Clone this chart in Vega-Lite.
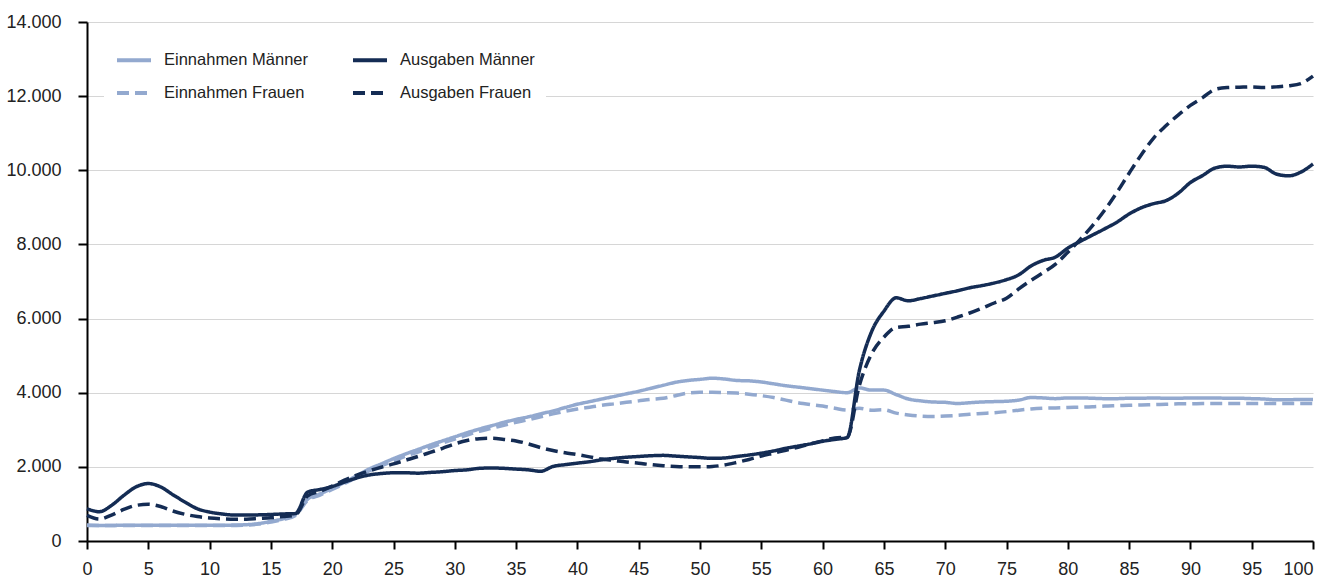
{
  "$schema": "https://vega.github.io/schema/vega-lite/v6.json",
  "width": 1226,
  "height": 519,
  "autosize": {"type": "none"},
  "padding": {"left": 87, "top": 22, "right": 15, "bottom": 37},
  "background": "white",
  "config": {
    "view": {"stroke": null},
    "font": "Liberation Sans",
    "locale": {"number": {"decimal": ",", "thousands": ".", "grouping": [3], "currency": ["", " €"]}},
    "axis": {
      "labelFont": "Liberation Sans",
      "labelFontSize": 18,
      "labelColor": "#222222",
      "domainColor": "#000000",
      "domainWidth": 2,
      "tickColor": "#000000",
      "tickWidth": 2,
      "title": null
    },
    "legend": {
      "orient": "none",
      "legendX": 17,
      "legendY": 8,
      "columns": 2,
      "fillColor": "white",
      "padding": 11,
      "symbolType": "stroke",
      "symbolSize": 1156,
      "symbolStrokeWidth": 4,
      "labelFont": "Liberation Sans",
      "labelFontSize": 16.5,
      "labelColor": "#222222",
      "labelOffset": 11,
      "rowPadding": 5,
      "columnPadding": 36,
      "labelLimit": 300
    }
  },
  "data": {"values": [
    {"age":0,"series":"Einnahmen Männer","value":420},{"age":1,"series":"Einnahmen Männer","value":420},{"age":2,"series":"Einnahmen Männer","value":420},{"age":3,"series":"Einnahmen Männer","value":425},{"age":4,"series":"Einnahmen Männer","value":425},{"age":5,"series":"Einnahmen Männer","value":425},{"age":6,"series":"Einnahmen Männer","value":425},{"age":7,"series":"Einnahmen Männer","value":425},{"age":8,"series":"Einnahmen Männer","value":425},{"age":9,"series":"Einnahmen Männer","value":425},
    {"age":10,"series":"Einnahmen Männer","value":425},{"age":11,"series":"Einnahmen Männer","value":425},{"age":12,"series":"Einnahmen Männer","value":430},{"age":13,"series":"Einnahmen Männer","value":440},{"age":14,"series":"Einnahmen Männer","value":470},{"age":15,"series":"Einnahmen Männer","value":530},{"age":16,"series":"Einnahmen Männer","value":600},{"age":17,"series":"Einnahmen Männer","value":720},{"age":18,"series":"Einnahmen Männer","value":1130},{"age":19,"series":"Einnahmen Männer","value":1270},
    {"age":20,"series":"Einnahmen Männer","value":1420},{"age":21,"series":"Einnahmen Männer","value":1580},{"age":22,"series":"Einnahmen Männer","value":1760},{"age":23,"series":"Einnahmen Männer","value":1940},{"age":24,"series":"Einnahmen Männer","value":2080},{"age":25,"series":"Einnahmen Männer","value":2220},{"age":26,"series":"Einnahmen Männer","value":2350},{"age":27,"series":"Einnahmen Männer","value":2470},{"age":28,"series":"Einnahmen Männer","value":2590},{"age":29,"series":"Einnahmen Männer","value":2700},
    {"age":30,"series":"Einnahmen Männer","value":2810},{"age":31,"series":"Einnahmen Männer","value":2920},{"age":32,"series":"Einnahmen Männer","value":3020},{"age":33,"series":"Einnahmen Männer","value":3110},{"age":34,"series":"Einnahmen Männer","value":3200},{"age":35,"series":"Einnahmen Männer","value":3280},{"age":36,"series":"Einnahmen Männer","value":3350},{"age":37,"series":"Einnahmen Männer","value":3430},{"age":38,"series":"Einnahmen Männer","value":3510},{"age":39,"series":"Einnahmen Männer","value":3600},
    {"age":40,"series":"Einnahmen Männer","value":3690},{"age":41,"series":"Einnahmen Männer","value":3760},{"age":42,"series":"Einnahmen Männer","value":3830},{"age":43,"series":"Einnahmen Männer","value":3900},{"age":44,"series":"Einnahmen Männer","value":3970},{"age":45,"series":"Einnahmen Männer","value":4040},{"age":46,"series":"Einnahmen Männer","value":4120},{"age":47,"series":"Einnahmen Männer","value":4200},{"age":48,"series":"Einnahmen Männer","value":4280},{"age":49,"series":"Einnahmen Männer","value":4330},
    {"age":50,"series":"Einnahmen Männer","value":4360},{"age":51,"series":"Einnahmen Männer","value":4390},{"age":52,"series":"Einnahmen Männer","value":4370},{"age":53,"series":"Einnahmen Männer","value":4330},{"age":54,"series":"Einnahmen Männer","value":4320},{"age":55,"series":"Einnahmen Männer","value":4290},{"age":56,"series":"Einnahmen Männer","value":4240},{"age":57,"series":"Einnahmen Männer","value":4190},{"age":58,"series":"Einnahmen Männer","value":4150},{"age":59,"series":"Einnahmen Männer","value":4110},
    {"age":60,"series":"Einnahmen Männer","value":4070},{"age":61,"series":"Einnahmen Männer","value":4030},{"age":62,"series":"Einnahmen Männer","value":4000},{"age":63,"series":"Einnahmen Männer","value":4130},{"age":64,"series":"Einnahmen Männer","value":4070},{"age":65,"series":"Einnahmen Männer","value":4070},{"age":66,"series":"Einnahmen Männer","value":3950},{"age":67,"series":"Einnahmen Männer","value":3830},{"age":68,"series":"Einnahmen Männer","value":3780},{"age":69,"series":"Einnahmen Männer","value":3750},
    {"age":70,"series":"Einnahmen Männer","value":3740},{"age":71,"series":"Einnahmen Männer","value":3710},{"age":72,"series":"Einnahmen Männer","value":3730},{"age":73,"series":"Einnahmen Männer","value":3750},{"age":74,"series":"Einnahmen Männer","value":3760},{"age":75,"series":"Einnahmen Männer","value":3770},{"age":76,"series":"Einnahmen Männer","value":3800},{"age":77,"series":"Einnahmen Männer","value":3870},{"age":78,"series":"Einnahmen Männer","value":3860},{"age":79,"series":"Einnahmen Männer","value":3840},
    {"age":80,"series":"Einnahmen Männer","value":3860},{"age":81,"series":"Einnahmen Männer","value":3860},{"age":82,"series":"Einnahmen Männer","value":3850},{"age":83,"series":"Einnahmen Männer","value":3840},{"age":84,"series":"Einnahmen Männer","value":3840},{"age":85,"series":"Einnahmen Männer","value":3850},{"age":86,"series":"Einnahmen Männer","value":3850},{"age":87,"series":"Einnahmen Männer","value":3860},{"age":88,"series":"Einnahmen Männer","value":3850},{"age":89,"series":"Einnahmen Männer","value":3850},
    {"age":90,"series":"Einnahmen Männer","value":3860},{"age":91,"series":"Einnahmen Männer","value":3860},{"age":92,"series":"Einnahmen Männer","value":3860},{"age":93,"series":"Einnahmen Männer","value":3850},{"age":94,"series":"Einnahmen Männer","value":3850},{"age":95,"series":"Einnahmen Männer","value":3840},{"age":96,"series":"Einnahmen Männer","value":3830},{"age":97,"series":"Einnahmen Männer","value":3810},{"age":98,"series":"Einnahmen Männer","value":3810},{"age":99,"series":"Einnahmen Männer","value":3820},{"age":100,"series":"Einnahmen Männer","value":3820},

    {"age":0,"series":"Einnahmen Frauen","value":430},{"age":1,"series":"Einnahmen Frauen","value":420},{"age":2,"series":"Einnahmen Frauen","value":420},{"age":3,"series":"Einnahmen Frauen","value":420},{"age":4,"series":"Einnahmen Frauen","value":420},{"age":5,"series":"Einnahmen Frauen","value":420},{"age":6,"series":"Einnahmen Frauen","value":420},{"age":7,"series":"Einnahmen Frauen","value":420},{"age":8,"series":"Einnahmen Frauen","value":420},{"age":9,"series":"Einnahmen Frauen","value":420},
    {"age":10,"series":"Einnahmen Frauen","value":415},{"age":11,"series":"Einnahmen Frauen","value":415},{"age":12,"series":"Einnahmen Frauen","value":420},{"age":13,"series":"Einnahmen Frauen","value":430},{"age":14,"series":"Einnahmen Frauen","value":455},{"age":15,"series":"Einnahmen Frauen","value":510},{"age":16,"series":"Einnahmen Frauen","value":580},{"age":17,"series":"Einnahmen Frauen","value":690},{"age":18,"series":"Einnahmen Frauen","value":1100},{"age":19,"series":"Einnahmen Frauen","value":1240},
    {"age":20,"series":"Einnahmen Frauen","value":1390},{"age":21,"series":"Einnahmen Frauen","value":1550},{"age":22,"series":"Einnahmen Frauen","value":1720},{"age":23,"series":"Einnahmen Frauen","value":1890},{"age":24,"series":"Einnahmen Frauen","value":2030},{"age":25,"series":"Einnahmen Frauen","value":2160},{"age":26,"series":"Einnahmen Frauen","value":2290},{"age":27,"series":"Einnahmen Frauen","value":2400},{"age":28,"series":"Einnahmen Frauen","value":2520},{"age":29,"series":"Einnahmen Frauen","value":2640},
    {"age":30,"series":"Einnahmen Frauen","value":2750},{"age":31,"series":"Einnahmen Frauen","value":2860},{"age":32,"series":"Einnahmen Frauen","value":2960},{"age":33,"series":"Einnahmen Frauen","value":3040},{"age":34,"series":"Einnahmen Frauen","value":3120},{"age":35,"series":"Einnahmen Frauen","value":3200},{"age":36,"series":"Einnahmen Frauen","value":3270},{"age":37,"series":"Einnahmen Frauen","value":3350},{"age":38,"series":"Einnahmen Frauen","value":3430},{"age":39,"series":"Einnahmen Frauen","value":3500},
    {"age":40,"series":"Einnahmen Frauen","value":3560},{"age":41,"series":"Einnahmen Frauen","value":3610},{"age":42,"series":"Einnahmen Frauen","value":3660},{"age":43,"series":"Einnahmen Frauen","value":3700},{"age":44,"series":"Einnahmen Frauen","value":3740},{"age":45,"series":"Einnahmen Frauen","value":3780},{"age":46,"series":"Einnahmen Frauen","value":3820},{"age":47,"series":"Einnahmen Frauen","value":3850},{"age":48,"series":"Einnahmen Frauen","value":3920},{"age":49,"series":"Einnahmen Frauen","value":3990},
    {"age":50,"series":"Einnahmen Frauen","value":4010},{"age":51,"series":"Einnahmen Frauen","value":4010},{"age":52,"series":"Einnahmen Frauen","value":4000},{"age":53,"series":"Einnahmen Frauen","value":3990},{"age":54,"series":"Einnahmen Frauen","value":3960},{"age":55,"series":"Einnahmen Frauen","value":3920},{"age":56,"series":"Einnahmen Frauen","value":3870},{"age":57,"series":"Einnahmen Frauen","value":3800},{"age":58,"series":"Einnahmen Frauen","value":3730},{"age":59,"series":"Einnahmen Frauen","value":3680},
    {"age":60,"series":"Einnahmen Frauen","value":3640},{"age":61,"series":"Einnahmen Frauen","value":3580},{"age":62,"series":"Einnahmen Frauen","value":3530},{"age":63,"series":"Einnahmen Frauen","value":3580},{"age":64,"series":"Einnahmen Frauen","value":3530},{"age":65,"series":"Einnahmen Frauen","value":3540},{"age":66,"series":"Einnahmen Frauen","value":3450},{"age":67,"series":"Einnahmen Frauen","value":3400},{"age":68,"series":"Einnahmen Frauen","value":3370},{"age":69,"series":"Einnahmen Frauen","value":3360},
    {"age":70,"series":"Einnahmen Frauen","value":3370},{"age":71,"series":"Einnahmen Frauen","value":3390},{"age":72,"series":"Einnahmen Frauen","value":3420},{"age":73,"series":"Einnahmen Frauen","value":3440},{"age":74,"series":"Einnahmen Frauen","value":3460},{"age":75,"series":"Einnahmen Frauen","value":3490},{"age":76,"series":"Einnahmen Frauen","value":3530},{"age":77,"series":"Einnahmen Frauen","value":3560},{"age":78,"series":"Einnahmen Frauen","value":3580},{"age":79,"series":"Einnahmen Frauen","value":3590},
    {"age":80,"series":"Einnahmen Frauen","value":3600},{"age":81,"series":"Einnahmen Frauen","value":3610},{"age":82,"series":"Einnahmen Frauen","value":3620},{"age":83,"series":"Einnahmen Frauen","value":3640},{"age":84,"series":"Einnahmen Frauen","value":3650},{"age":85,"series":"Einnahmen Frauen","value":3660},{"age":86,"series":"Einnahmen Frauen","value":3670},{"age":87,"series":"Einnahmen Frauen","value":3680},{"age":88,"series":"Einnahmen Frauen","value":3690},{"age":89,"series":"Einnahmen Frauen","value":3700},
    {"age":90,"series":"Einnahmen Frauen","value":3700},{"age":91,"series":"Einnahmen Frauen","value":3710},{"age":92,"series":"Einnahmen Frauen","value":3710},{"age":93,"series":"Einnahmen Frauen","value":3710},{"age":94,"series":"Einnahmen Frauen","value":3710},{"age":95,"series":"Einnahmen Frauen","value":3710},{"age":96,"series":"Einnahmen Frauen","value":3710},{"age":97,"series":"Einnahmen Frauen","value":3710},{"age":98,"series":"Einnahmen Frauen","value":3710},{"age":99,"series":"Einnahmen Frauen","value":3710},{"age":100,"series":"Einnahmen Frauen","value":3710},

    {"age":0,"series":"Ausgaben Männer","value":870},{"age":1,"series":"Ausgaben Männer","value":790},{"age":2,"series":"Ausgaben Männer","value":960},{"age":3,"series":"Ausgaben Männer","value":1230},{"age":4,"series":"Ausgaben Männer","value":1460},{"age":5,"series":"Ausgaben Männer","value":1550},{"age":6,"series":"Ausgaben Männer","value":1460},{"age":7,"series":"Ausgaben Männer","value":1250},{"age":8,"series":"Ausgaben Männer","value":1050},{"age":9,"series":"Ausgaben Männer","value":870},
    {"age":10,"series":"Ausgaben Männer","value":780},{"age":11,"series":"Ausgaben Männer","value":730},{"age":12,"series":"Ausgaben Männer","value":700},{"age":13,"series":"Ausgaben Männer","value":700},{"age":14,"series":"Ausgaben Männer","value":705},{"age":15,"series":"Ausgaben Männer","value":715},{"age":16,"series":"Ausgaben Männer","value":730},{"age":17,"series":"Ausgaben Männer","value":740},{"age":18,"series":"Ausgaben Männer","value":1320},{"age":19,"series":"Ausgaben Männer","value":1390},
    {"age":20,"series":"Ausgaben Männer","value":1470},{"age":21,"series":"Ausgaben Männer","value":1590},{"age":22,"series":"Ausgaben Männer","value":1700},{"age":23,"series":"Ausgaben Männer","value":1780},{"age":24,"series":"Ausgaben Männer","value":1820},{"age":25,"series":"Ausgaben Männer","value":1840},{"age":26,"series":"Ausgaben Männer","value":1840},{"age":27,"series":"Ausgaben Männer","value":1830},{"age":28,"series":"Ausgaben Männer","value":1850},{"age":29,"series":"Ausgaben Männer","value":1870},
    {"age":30,"series":"Ausgaben Männer","value":1900},{"age":31,"series":"Ausgaben Männer","value":1920},{"age":32,"series":"Ausgaben Männer","value":1960},{"age":33,"series":"Ausgaben Männer","value":1970},{"age":34,"series":"Ausgaben Männer","value":1960},{"age":35,"series":"Ausgaben Männer","value":1940},{"age":36,"series":"Ausgaben Männer","value":1920},{"age":37,"series":"Ausgaben Männer","value":1880},{"age":38,"series":"Ausgaben Männer","value":2010},{"age":39,"series":"Ausgaben Männer","value":2060},
    {"age":40,"series":"Ausgaben Männer","value":2100},{"age":41,"series":"Ausgaben Männer","value":2140},{"age":42,"series":"Ausgaben Männer","value":2190},{"age":43,"series":"Ausgaben Männer","value":2230},{"age":44,"series":"Ausgaben Männer","value":2260},{"age":45,"series":"Ausgaben Männer","value":2280},{"age":46,"series":"Ausgaben Männer","value":2300},{"age":47,"series":"Ausgaben Männer","value":2310},{"age":48,"series":"Ausgaben Männer","value":2290},{"age":49,"series":"Ausgaben Männer","value":2270},
    {"age":50,"series":"Ausgaben Männer","value":2250},{"age":51,"series":"Ausgaben Männer","value":2230},{"age":52,"series":"Ausgaben Männer","value":2240},{"age":53,"series":"Ausgaben Männer","value":2280},{"age":54,"series":"Ausgaben Männer","value":2320},{"age":55,"series":"Ausgaben Männer","value":2370},{"age":56,"series":"Ausgaben Männer","value":2430},{"age":57,"series":"Ausgaben Männer","value":2500},{"age":58,"series":"Ausgaben Männer","value":2560},{"age":59,"series":"Ausgaben Männer","value":2620},
    {"age":60,"series":"Ausgaben Männer","value":2690},{"age":61,"series":"Ausgaben Männer","value":2740},{"age":62,"series":"Ausgaben Männer","value":2790},{"age":63,"series":"Ausgaben Männer","value":4600},{"age":64,"series":"Ausgaben Männer","value":5650},{"age":65,"series":"Ausgaben Männer","value":6200},{"age":66,"series":"Ausgaben Männer","value":6560},{"age":67,"series":"Ausgaben Männer","value":6480},{"age":68,"series":"Ausgaben Männer","value":6540},{"age":69,"series":"Ausgaben Männer","value":6610},
    {"age":70,"series":"Ausgaben Männer","value":6680},{"age":71,"series":"Ausgaben Männer","value":6750},{"age":72,"series":"Ausgaben Männer","value":6830},{"age":73,"series":"Ausgaben Männer","value":6890},{"age":74,"series":"Ausgaben Männer","value":6960},{"age":75,"series":"Ausgaben Männer","value":7050},{"age":76,"series":"Ausgaben Männer","value":7180},{"age":77,"series":"Ausgaben Männer","value":7420},{"age":78,"series":"Ausgaben Männer","value":7570},{"age":79,"series":"Ausgaben Männer","value":7660},
    {"age":80,"series":"Ausgaben Männer","value":7900},{"age":81,"series":"Ausgaben Männer","value":8080},{"age":82,"series":"Ausgaben Männer","value":8250},{"age":83,"series":"Ausgaben Männer","value":8420},{"age":84,"series":"Ausgaben Männer","value":8600},{"age":85,"series":"Ausgaben Männer","value":8820},{"age":86,"series":"Ausgaben Männer","value":8990},{"age":87,"series":"Ausgaben Männer","value":9100},{"age":88,"series":"Ausgaben Männer","value":9180},{"age":89,"series":"Ausgaben Männer","value":9380},
    {"age":90,"series":"Ausgaben Männer","value":9670},{"age":91,"series":"Ausgaben Männer","value":9860},{"age":92,"series":"Ausgaben Männer","value":10060},{"age":93,"series":"Ausgaben Männer","value":10110},{"age":94,"series":"Ausgaben Männer","value":10090},{"age":95,"series":"Ausgaben Männer","value":10110},{"age":96,"series":"Ausgaben Männer","value":10080},{"age":97,"series":"Ausgaben Männer","value":9900},{"age":98,"series":"Ausgaben Männer","value":9850},{"age":99,"series":"Ausgaben Männer","value":9950},{"age":100,"series":"Ausgaben Männer","value":10170},

    {"age":0,"series":"Ausgaben Frauen","value":690},{"age":1,"series":"Ausgaben Frauen","value":590},{"age":2,"series":"Ausgaben Frauen","value":700},{"age":3,"series":"Ausgaben Frauen","value":850},{"age":4,"series":"Ausgaben Frauen","value":960},{"age":5,"series":"Ausgaben Frauen","value":990},{"age":6,"series":"Ausgaben Frauen","value":930},{"age":7,"series":"Ausgaben Frauen","value":810},{"age":8,"series":"Ausgaben Frauen","value":720},{"age":9,"series":"Ausgaben Frauen","value":660},
    {"age":10,"series":"Ausgaben Frauen","value":620},{"age":11,"series":"Ausgaben Frauen","value":600},{"age":12,"series":"Ausgaben Frauen","value":590},{"age":13,"series":"Ausgaben Frauen","value":590},{"age":14,"series":"Ausgaben Frauen","value":610},{"age":15,"series":"Ausgaben Frauen","value":630},{"age":16,"series":"Ausgaben Frauen","value":660},{"age":17,"series":"Ausgaben Frauen","value":700},{"age":18,"series":"Ausgaben Frauen","value":1220},{"age":19,"series":"Ausgaben Frauen","value":1340},
    {"age":20,"series":"Ausgaben Frauen","value":1480},{"age":21,"series":"Ausgaben Frauen","value":1640},{"age":22,"series":"Ausgaben Frauen","value":1780},{"age":23,"series":"Ausgaben Frauen","value":1890},{"age":24,"series":"Ausgaben Frauen","value":1990},{"age":25,"series":"Ausgaben Frauen","value":2080},{"age":26,"series":"Ausgaben Frauen","value":2180},{"age":27,"series":"Ausgaben Frauen","value":2280},{"age":28,"series":"Ausgaben Frauen","value":2390},{"age":29,"series":"Ausgaben Frauen","value":2500},
    {"age":30,"series":"Ausgaben Frauen","value":2620},{"age":31,"series":"Ausgaben Frauen","value":2710},{"age":32,"series":"Ausgaben Frauen","value":2760},{"age":33,"series":"Ausgaben Frauen","value":2770},{"age":34,"series":"Ausgaben Frauen","value":2740},{"age":35,"series":"Ausgaben Frauen","value":2700},{"age":36,"series":"Ausgaben Frauen","value":2620},{"age":37,"series":"Ausgaben Frauen","value":2520},{"age":38,"series":"Ausgaben Frauen","value":2440},{"age":39,"series":"Ausgaben Frauen","value":2380},
    {"age":40,"series":"Ausgaben Frauen","value":2330},{"age":41,"series":"Ausgaben Frauen","value":2270},{"age":42,"series":"Ausgaben Frauen","value":2210},{"age":43,"series":"Ausgaben Frauen","value":2170},{"age":44,"series":"Ausgaben Frauen","value":2130},{"age":45,"series":"Ausgaben Frauen","value":2100},{"age":46,"series":"Ausgaben Frauen","value":2060},{"age":47,"series":"Ausgaben Frauen","value":2030},{"age":48,"series":"Ausgaben Frauen","value":2010},{"age":49,"series":"Ausgaben Frauen","value":2000},
    {"age":50,"series":"Ausgaben Frauen","value":2000},{"age":51,"series":"Ausgaben Frauen","value":2010},{"age":52,"series":"Ausgaben Frauen","value":2050},{"age":53,"series":"Ausgaben Frauen","value":2120},{"age":54,"series":"Ausgaben Frauen","value":2200},{"age":55,"series":"Ausgaben Frauen","value":2290},{"age":56,"series":"Ausgaben Frauen","value":2370},{"age":57,"series":"Ausgaben Frauen","value":2450},{"age":58,"series":"Ausgaben Frauen","value":2530},{"age":59,"series":"Ausgaben Frauen","value":2620},
    {"age":60,"series":"Ausgaben Frauen","value":2700},{"age":61,"series":"Ausgaben Frauen","value":2780},{"age":62,"series":"Ausgaben Frauen","value":2800},{"age":63,"series":"Ausgaben Frauen","value":4200},{"age":64,"series":"Ausgaben Frauen","value":5050},{"age":65,"series":"Ausgaben Frauen","value":5500},{"age":66,"series":"Ausgaben Frauen","value":5760},{"age":67,"series":"Ausgaben Frauen","value":5790},{"age":68,"series":"Ausgaben Frauen","value":5850},{"age":69,"series":"Ausgaben Frauen","value":5890},
    {"age":70,"series":"Ausgaben Frauen","value":5940},{"age":71,"series":"Ausgaben Frauen","value":6040},{"age":72,"series":"Ausgaben Frauen","value":6150},{"age":73,"series":"Ausgaben Frauen","value":6280},{"age":74,"series":"Ausgaben Frauen","value":6420},{"age":75,"series":"Ausgaben Frauen","value":6550},{"age":76,"series":"Ausgaben Frauen","value":6800},{"age":77,"series":"Ausgaben Frauen","value":7030},{"age":78,"series":"Ausgaben Frauen","value":7240},{"age":79,"series":"Ausgaben Frauen","value":7470},
    {"age":80,"series":"Ausgaben Frauen","value":7790},{"age":81,"series":"Ausgaben Frauen","value":8130},{"age":82,"series":"Ausgaben Frauen","value":8500},{"age":83,"series":"Ausgaben Frauen","value":8920},{"age":84,"series":"Ausgaben Frauen","value":9400},{"age":85,"series":"Ausgaben Frauen","value":9920},{"age":86,"series":"Ausgaben Frauen","value":10420},{"age":87,"series":"Ausgaben Frauen","value":10870},{"age":88,"series":"Ausgaben Frauen","value":11200},{"age":89,"series":"Ausgaben Frauen","value":11490},
    {"age":90,"series":"Ausgaben Frauen","value":11750},{"age":91,"series":"Ausgaben Frauen","value":11960},{"age":92,"series":"Ausgaben Frauen","value":12180},{"age":93,"series":"Ausgaben Frauen","value":12230},{"age":94,"series":"Ausgaben Frauen","value":12240},{"age":95,"series":"Ausgaben Frauen","value":12250},{"age":96,"series":"Ausgaben Frauen","value":12230},{"age":97,"series":"Ausgaben Frauen","value":12250},{"age":98,"series":"Ausgaben Frauen","value":12280},{"age":99,"series":"Ausgaben Frauen","value":12340},{"age":100,"series":"Ausgaben Frauen","value":12540}
  ]},
  "mark": {"type": "line", "strokeWidth": 3.5, "interpolate": "monotone", "clip": false},
  "encoding": {
    "x": {
      "field": "age", "type": "quantitative",
      "scale": {"domain": [0, 100], "nice": false, "zero": false},
      "axis": {
        "values": [0,5,10,15,20,25,30,35,40,45,50,55,60,65,70,75,80,85,90,95,100],
        "grid": false, "tickSize": 8, "labelPadding": 11, "labelFlush": false,
        "labelAlign": {"condition": {"test": "datum.value == 100", "value": "right"}, "value": "center"}
      }
    },
    "y": {
      "field": "value", "type": "quantitative",
      "scale": {"domain": [0, 14000], "nice": false},
      "axis": {"values": [0,2000,4000,6000,8000,10000,12000,14000], "format": ",d", "grid": true, "gridColor": "#d6d6d6", "gridWidth": 1.2, "tickSize": 9, "labelPadding": 17}
    },
    "color": {
      "field": "series", "type": "nominal",
      "scale": {"domain": ["Einnahmen Männer", "Einnahmen Frauen", "Ausgaben Männer", "Ausgaben Frauen"], "range": ["#93a9cf", "#93a9cf", "#142c54", "#142c54"]},
      "legend": {"title": null}
    },
    "strokeDash": {
      "field": "series", "type": "nominal",
      "scale": {"domain": ["Einnahmen Männer", "Einnahmen Frauen", "Ausgaben Männer", "Ausgaben Frauen"], "range": [[1, 0], [12, 6], [1, 0], [12, 6]]},
      "legend": {"title": null}
    },
    "order": {"field": "age", "type": "quantitative"}
  }
}
